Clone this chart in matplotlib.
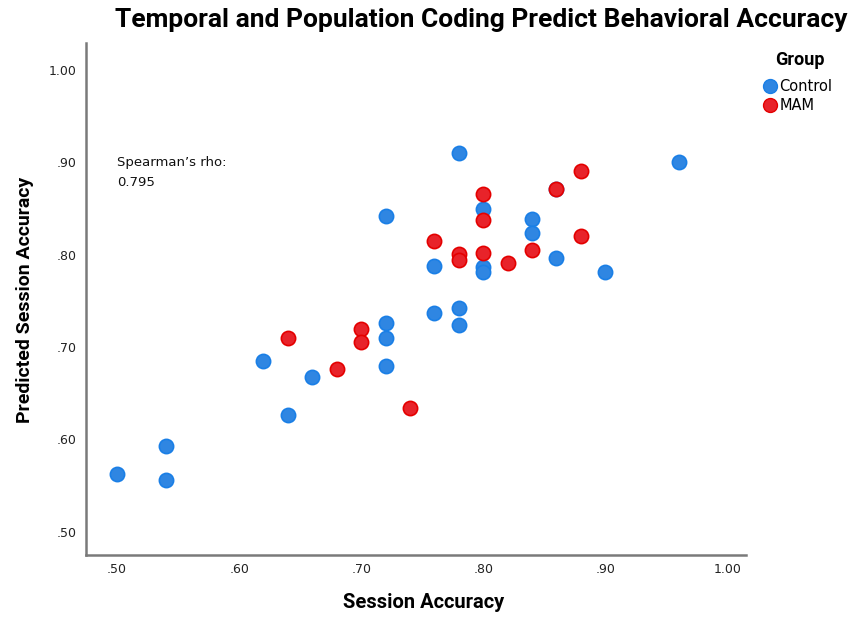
import matplotlib
matplotlib.use('Agg')
import matplotlib.pyplot as plt
from matplotlib.lines import Line2D

# session accuracy vs predicted accuracy
control_x = [.50, .54, .54, .62, .64, .66, .72, .72, .72, .72, .76, .76,
             .78, .78, .78, .80, .80, .80, .84, .84, .86, .86, .90, .96]
control_y = [.563, .593, .556, .685, .626, .667, .726, .710, .679, .842, .737, .788,
             .742, .724, .910, .849, .787, .781, .839, .823, .796, .871, .781, .900]

mam_x = [.64, .68, .70, .70, .74, .76, .78, .78, .80, .80, .80, .82, .84, .86, .88, .88]
mam_y = [.710, .676, .719, .705, .634, .815, .801, .794, .866, .837, .802, .791, .805,
         .871, .891, .820]

ticks = [.50, .60, .70, .80, .90, 1.00]
tick_labels = ['.50', '.60', '.70', '.80', '.90', '1.00']

rho_text = "Spearman\u2019s rho:\n0.795"

blue = '#2f86e2'
blue_edge = '#1a7fe6'
red = '#e8232a'
red_edge = '#e40000'

bold_font = 'Roboto'

fig = plt.figure(figsize=(8.59, 6.19), dpi=100)
ax = fig.add_axes([0.1001, 0.1034, 0.7684, 0.8271])

ax.scatter(control_x, control_y, s=105, c=blue, edgecolors=blue_edge,
           linewidths=1.2, zorder=3)
ax.scatter(mam_x, mam_y, s=105, c=red, edgecolors=red_edge,
           linewidths=1.2, zorder=4)

ax.set_xlim(0.4746, 1.0153)
ax.set_ylim(0.4748, 1.029)
ax.set_xticks(ticks)
ax.set_xticklabels(tick_labels)
ax.set_yticks(ticks)
ax.set_yticklabels(tick_labels)
ax.tick_params(length=0, labelsize=9, colors='#222222')
ax.tick_params(axis='x', pad=6)
ax.tick_params(axis='y', pad=7)

for side in ['top', 'right']:
    ax.spines[side].set_visible(False)
for side in ['left', 'bottom']:
    ax.spines[side].set_color('#7a7a7a')
    ax.spines[side].set_linewidth(1.8)

ax.text(0.5, 0.907, rho_text, fontsize=9.5, va='top', ha='left',
        linespacing=1.75, color='#111111')

fig.text(424 / 859, 1 - 602 / 619, 'Session Accuracy', ha='center', va='center',
         fontsize=14.5, fontweight='bold', family=bold_font)
fig.text(25 / 859, 1 - 300 / 619, 'Predicted Session Accuracy', ha='center',
         va='center', rotation=90, fontsize=14, fontweight='bold', family=bold_font)

fig.text(481 / 859, 1 - 20 / 619,
         'Temporal and Population Coding Predict Behavioral Accuracy',
         ha='center', va='center', fontsize=19, fontweight='bold', family=bold_font)

fig.text(800 / 859, 1 - 60 / 619, 'Group', ha='center', va='center',
         fontsize=13, fontweight='bold', family=bold_font)

handles = [
    Line2D([], [], marker='o', ls='', markersize=10, markerfacecolor=blue,
           markeredgecolor=blue_edge, label='Control'),
    Line2D([], [], marker='o', ls='', markersize=10, markerfacecolor=red,
           markeredgecolor=red_edge, label='MAM'),
]
fig.legend(handles=handles, loc='upper left', bbox_to_anchor=(0.886, 1 - 79 / 619),
           frameon=False, fontsize=10.5, handletextpad=0.05,
           labelspacing=0.25, borderaxespad=0, handlelength=1.2, borderpad=0)

fig.savefig('out.png', dpi=100)
